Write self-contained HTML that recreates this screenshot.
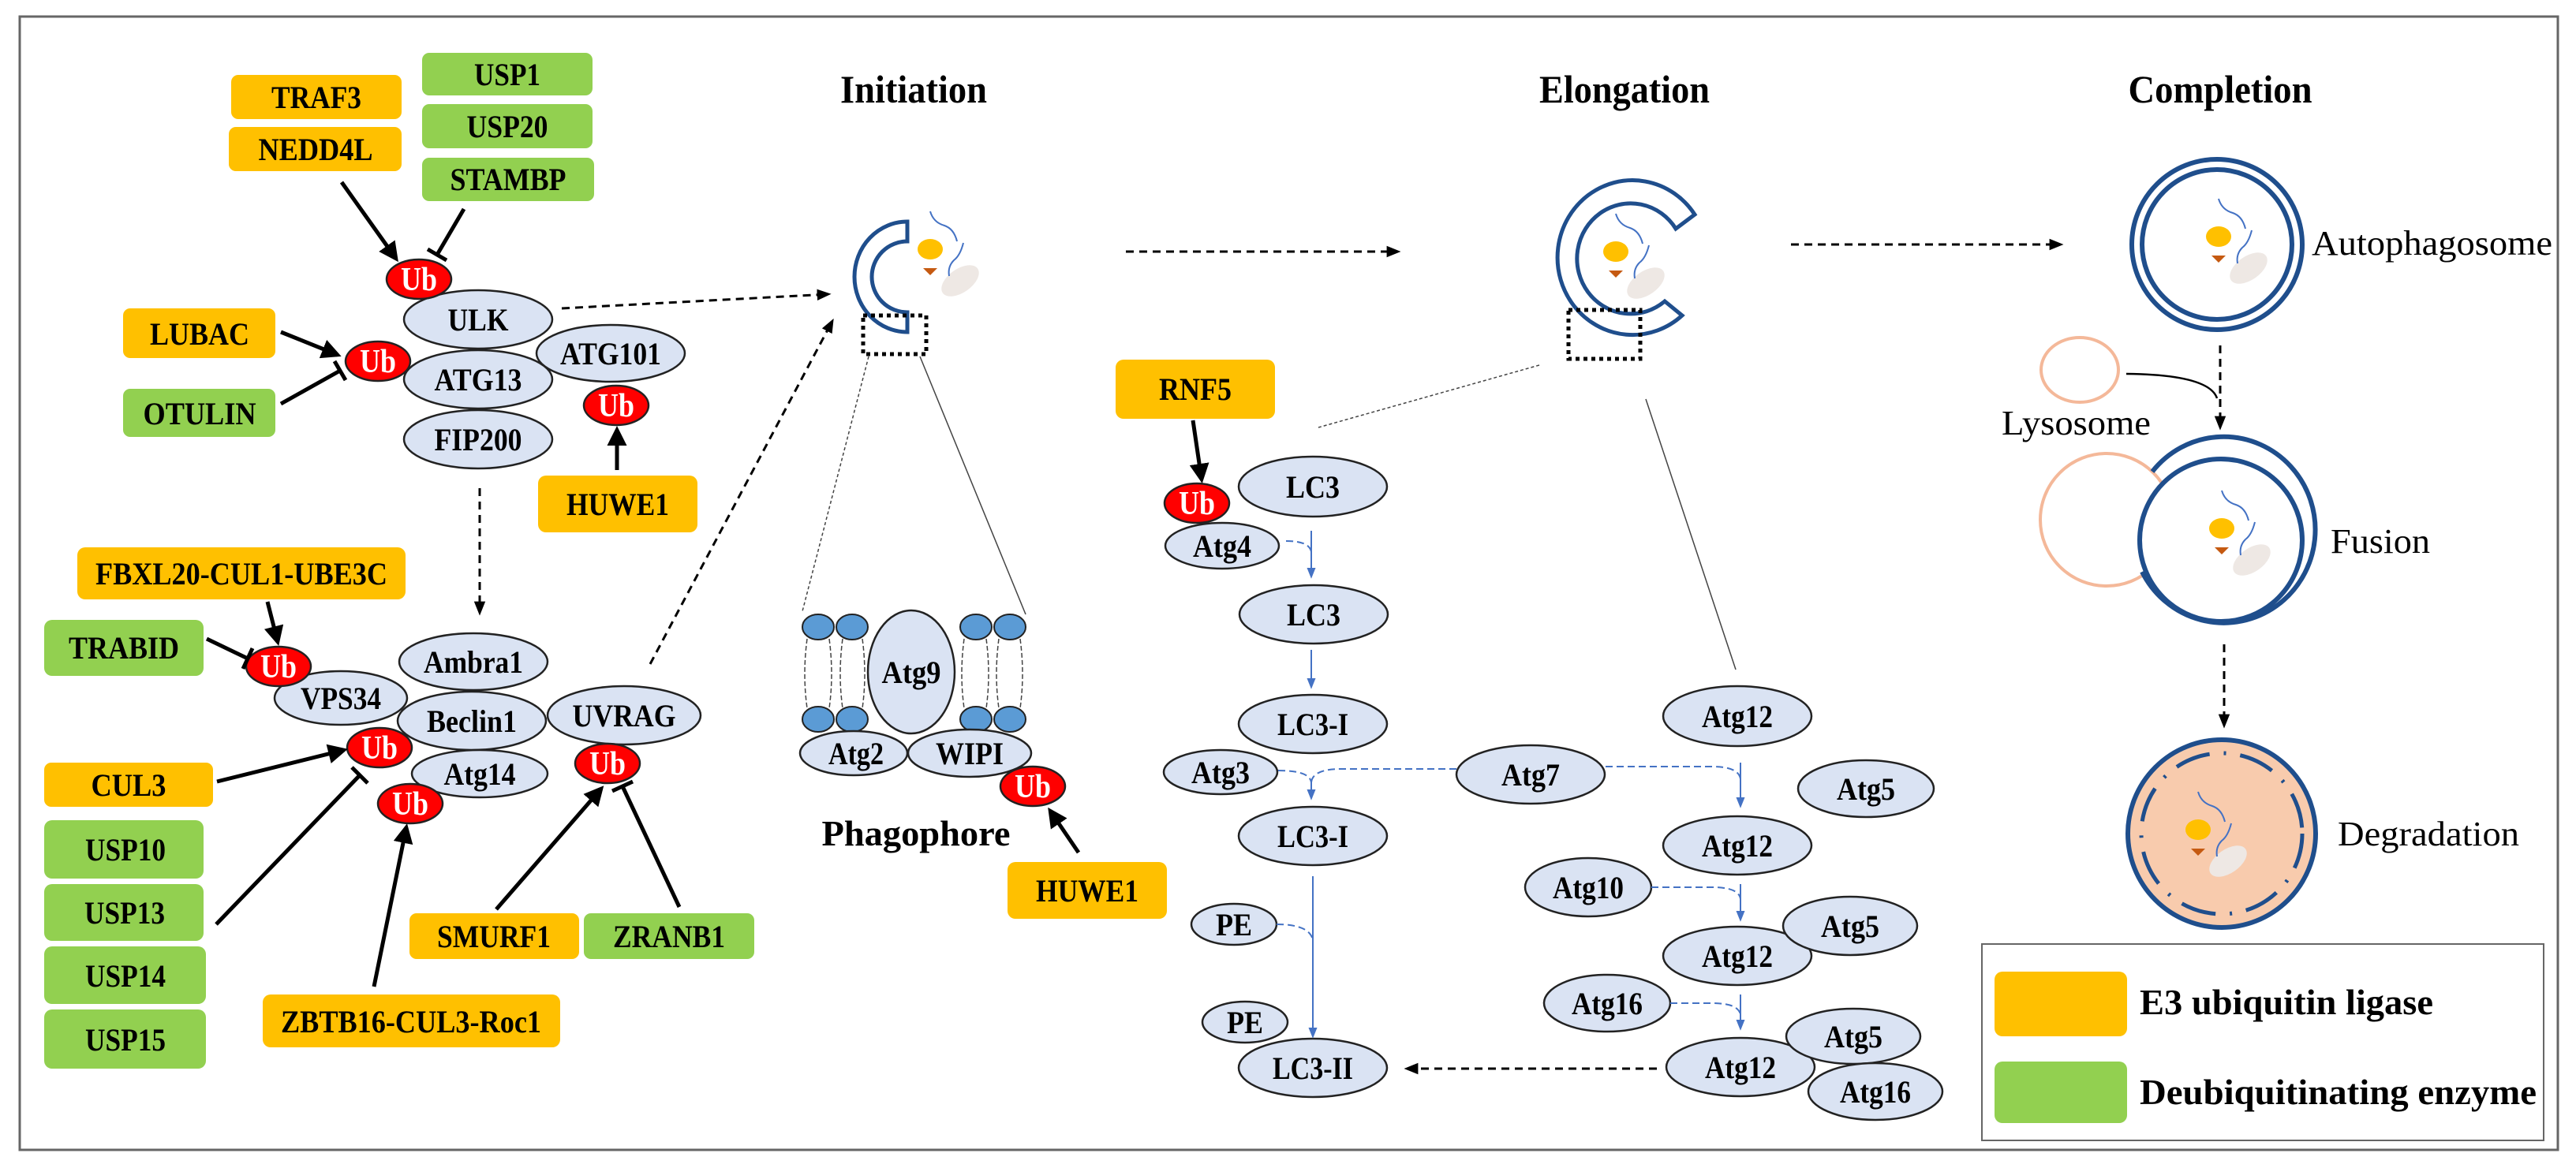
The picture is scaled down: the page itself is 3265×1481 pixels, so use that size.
<!DOCTYPE html>
<html><head><meta charset="utf-8"><style>
html,body{margin:0;padding:0;background:#fff}
svg{display:block;font-family:"Liberation Serif","Times New Roman",serif}
svg text{font-family:"Liberation Serif","Times New Roman",serif}
.b{font-weight:bold;font-size:40px;text-anchor:middle}
.t{font-size:42px;font-weight:bold;text-anchor:middle;fill:#fff}
.e{fill:#dae3f3;stroke:#222;stroke-width:2.5}
.ub{fill:#f00;stroke:#222;stroke-width:2.5}
.o{fill:#ffc000}
.g{fill:#92d050}
.a{stroke:#000;stroke-width:5;fill:none}
.d{stroke:#000;stroke-width:3;fill:none;stroke-dasharray:10 7}
.bl{stroke:#4472c4;stroke-width:2;fill:none}
.bd{stroke:#4472c4;stroke-width:2;fill:none;stroke-dasharray:9 5}
.ves{fill:none;stroke:#1f4e8c;stroke-width:6}
</style></head><body>
<svg width="3265" height="1481" viewBox="0 0 3265 1481" xmlns="http://www.w3.org/2000/svg" font-family="Liberation Serif, Times New Roman, serif">
<defs>
<marker id="ah" viewBox="0 0 10 10" refX="8" refY="5" markerWidth="5" markerHeight="5" orient="auto"><path d="M0,0 L10,5 L0,10 z" fill="#000"/></marker>
<marker id="ad" viewBox="0 0 10 10" refX="8" refY="5" markerWidth="6" markerHeight="6" orient="auto"><path d="M0,1 L10,5 L0,9 z" fill="#000"/></marker>
<marker id="ab" viewBox="0 0 10 10" refX="8" refY="5" markerWidth="7" markerHeight="7" orient="auto"><path d="M0,1 L10,5 L0,9 z" fill="#4472c4"/></marker>
<g id="cargo">
<ellipse cx="0" cy="0" rx="16" ry="13" fill="#ffc000"/>
<path d="M-9,24 L9,24 L0,33 z" fill="#c55a11"/>
<ellipse cx="38" cy="40" rx="27" ry="15" fill="#eee8e4" transform="rotate(-35 38 40)"/>
<path d="M0,-48 q4,14 18,18 q12,4 16,20" class="bl" stroke-width="3"/>
<path d="M42,-8 q-4,16 -12,22 q-8,8 -6,20" class="bl" stroke-width="3"/>
</g>
</defs>

<rect x="25" y="21" width="3217" height="1437" fill="none" stroke="#666" stroke-width="3"/>

<rect x="293" y="95" width="216" height="56" rx="9" class="o"/><text x="401" y="137" class="b" textLength="114" lengthAdjust="spacingAndGlyphs">TRAF3</text>
<rect x="290" y="161" width="219" height="56" rx="9" class="o"/><text x="400" y="203" class="b" textLength="145" lengthAdjust="spacingAndGlyphs">NEDD4L</text>
<rect x="535" y="67" width="216" height="54" rx="9" class="g"/><text x="643" y="108" class="b" textLength="84" lengthAdjust="spacingAndGlyphs">USP1</text>
<rect x="535" y="132" width="216" height="56" rx="9" class="g"/><text x="643" y="174" class="b" textLength="103" lengthAdjust="spacingAndGlyphs">USP20</text>
<rect x="535" y="200" width="218" height="55" rx="9" class="g"/><text x="644" y="241" class="b" textLength="147" lengthAdjust="spacingAndGlyphs">STAMBP</text>
<rect x="156" y="391" width="193" height="63" rx="9" class="o"/><text x="253" y="437" class="b" textLength="126" lengthAdjust="spacingAndGlyphs">LUBAC</text>
<rect x="156" y="493" width="193" height="61" rx="9" class="g"/><text x="253" y="538" class="b" textLength="143" lengthAdjust="spacingAndGlyphs">OTULIN</text>
<rect x="682" y="603" width="202" height="72" rx="10" class="o"/><text x="783" y="653" class="b" textLength="130" lengthAdjust="spacingAndGlyphs">HUWE1</text>
<rect x="98" y="694" width="416" height="66" rx="10" class="o"/><text x="306" y="741" class="b" textLength="370" lengthAdjust="spacingAndGlyphs">FBXL20-CUL1-UBE3C</text>
<rect x="56" y="786" width="202" height="71" rx="10" class="g"/><text x="157" y="835" class="b" textLength="140" lengthAdjust="spacingAndGlyphs">TRABID</text>
<rect x="56" y="967" width="214" height="56" rx="9" class="o"/><text x="163" y="1009" class="b" textLength="95" lengthAdjust="spacingAndGlyphs">CUL3</text>
<rect x="56" y="1040" width="202" height="74" rx="10" class="g"/><text x="159" y="1091" class="b" textLength="102" lengthAdjust="spacingAndGlyphs">USP10</text>
<rect x="56" y="1121" width="202" height="72" rx="10" class="g"/><text x="158" y="1171" class="b" textLength="102" lengthAdjust="spacingAndGlyphs">USP13</text>
<rect x="56" y="1200" width="205" height="73" rx="10" class="g"/><text x="159" y="1251" class="b" textLength="102" lengthAdjust="spacingAndGlyphs">USP14</text>
<rect x="56" y="1280" width="205" height="75" rx="10" class="g"/><text x="159" y="1332" class="b" textLength="102" lengthAdjust="spacingAndGlyphs">USP15</text>
<rect x="333" y="1261" width="377" height="67" rx="10" class="o"/><text x="521" y="1309" class="b" textLength="330" lengthAdjust="spacingAndGlyphs">ZBTB16-CUL3-Roc1</text>
<rect x="519" y="1158" width="215" height="58" rx="9" class="o"/><text x="626" y="1201" class="b" textLength="144" lengthAdjust="spacingAndGlyphs">SMURF1</text>
<rect x="740" y="1158" width="216" height="58" rx="9" class="g"/><text x="848" y="1201" class="b" textLength="142" lengthAdjust="spacingAndGlyphs">ZRANB1</text>

<ellipse cx="606" cy="405" rx="94" ry="37" class="e"/><text x="606" y="419" class="b" textLength="77" lengthAdjust="spacingAndGlyphs">ULK</text>
<ellipse cx="774" cy="448" rx="94" ry="36" class="e"/><text x="774" y="462" class="b" textLength="128" lengthAdjust="spacingAndGlyphs">ATG101</text>
<ellipse cx="606" cy="481" rx="94" ry="37" class="e"/><text x="606" y="495" class="b" textLength="111" lengthAdjust="spacingAndGlyphs">ATG13</text>
<ellipse cx="606" cy="557" rx="94" ry="37" class="e"/><text x="606" y="571" class="b" textLength="111" lengthAdjust="spacingAndGlyphs">FIP200</text>
<ellipse cx="531" cy="354" rx="41" ry="25" class="ub"/><text x="531" y="368" class="t" textLength="46" lengthAdjust="spacingAndGlyphs">Ub</text>
<ellipse cx="479" cy="458" rx="41" ry="25" class="ub"/><text x="479" y="472" class="t" textLength="46" lengthAdjust="spacingAndGlyphs">Ub</text>
<ellipse cx="781" cy="514" rx="41" ry="25" class="ub"/><text x="781" y="528" class="t" textLength="46" lengthAdjust="spacingAndGlyphs">Ub</text>

<ellipse cx="600" cy="839" rx="94" ry="36" class="e"/><text x="600" y="853" class="b" textLength="126" lengthAdjust="spacingAndGlyphs">Ambra1</text>
<ellipse cx="432" cy="885" rx="84" ry="34" class="e"/><text x="432" y="899" class="b" textLength="102" lengthAdjust="spacingAndGlyphs">VPS34</text>
<ellipse cx="598" cy="914" rx="94" ry="37" class="e"/><text x="598" y="928" class="b" textLength="114" lengthAdjust="spacingAndGlyphs">Beclin1</text>
<ellipse cx="791" cy="907" rx="97" ry="37" class="e"/><text x="791" y="921" class="b" textLength="131" lengthAdjust="spacingAndGlyphs">UVRAG</text>
<ellipse cx="608" cy="981" rx="86" ry="30" class="e"/><text x="608" y="995" class="b" textLength="91" lengthAdjust="spacingAndGlyphs">Atg14</text>
<ellipse cx="353" cy="845" rx="41" ry="25" class="ub"/><text x="353" y="859" class="t" textLength="46" lengthAdjust="spacingAndGlyphs">Ub</text>
<ellipse cx="481" cy="948" rx="41" ry="25" class="ub"/><text x="481" y="962" class="t" textLength="46" lengthAdjust="spacingAndGlyphs">Ub</text>
<ellipse cx="520" cy="1019" rx="41" ry="25" class="ub"/><text x="520" y="1033" class="t" textLength="46" lengthAdjust="spacingAndGlyphs">Ub</text>
<ellipse cx="770" cy="968" rx="41" ry="25" class="ub"/><text x="770" y="982" class="t" textLength="46" lengthAdjust="spacingAndGlyphs">Ub</text>

<line x1="433" y1="231" x2="502" y2="328" class="a" marker-end="url(#ah)"/>
<line x1="588" y1="265" x2="554" y2="323" class="a"/><line x1="542" y1="316" x2="566" y2="330" class="a"/>
<line x1="356" y1="421" x2="428" y2="450" class="a" marker-end="url(#ah)"/>
<line x1="356" y1="512" x2="431" y2="470" class="a"/><line x1="424" y1="458" x2="438" y2="482" class="a"/>
<line x1="782" y1="596" x2="782" y2="545" class="a" marker-end="url(#ah)"/>
<line x1="339" y1="763" x2="352" y2="814" class="a" marker-end="url(#ah)"/>
<line x1="262" y1="810" x2="314" y2="835" class="a"/><line x1="320" y1="822" x2="308" y2="848" class="a"/>
<line x1="275" y1="991" x2="436" y2="951" class="a" marker-end="url(#ah)"/>
<line x1="274" y1="1172" x2="456" y2="983" class="a"/><line x1="446" y1="973" x2="466" y2="993" class="a"/>
<line x1="474" y1="1251" x2="515" y2="1049" class="a" marker-end="url(#ah)"/>
<line x1="629" y1="1153" x2="762" y2="1000" class="a" marker-end="url(#ah)"/>
<line x1="861" y1="1150" x2="789" y2="997" class="a"/><line x1="776" y1="1003" x2="802" y2="991" class="a"/>
<line x1="608" y1="619" x2="608" y2="777" class="d" stroke-width="2.5" marker-end="url(#ad)"/>
<line x1="712" y1="391" x2="1050" y2="373" class="d" marker-end="url(#ad)"/>
<line x1="824" y1="842" x2="1055" y2="407" class="d" stroke-width="2.5" marker-end="url(#ad)"/>

<text x="1158" y="130" font-size="50" font-weight="bold" text-anchor="middle" textLength="186" lengthAdjust="spacingAndGlyphs">Initiation</text>
<text x="2059" y="130" font-size="50" font-weight="bold" text-anchor="middle" textLength="216" lengthAdjust="spacingAndGlyphs">Elongation</text>
<text x="2814" y="130" font-size="50" font-weight="bold" text-anchor="middle" textLength="233" lengthAdjust="spacingAndGlyphs">Completion</text>

<path d="M1150,281 A67,70 0 0 0 1150,421 L1150,396 A45,45 0 0 1 1150,306 Z" fill="#fff" stroke="#1f4e8c" stroke-width="5"/>
<use href="#cargo" x="1179" y="316"/>
<rect x="1094" y="400" width="80" height="49" fill="none" stroke="#000" stroke-width="5" stroke-dasharray="5 5"/>
<line x1="1101" y1="452" x2="1017" y2="775" stroke="#444" stroke-width="1.5" stroke-dasharray="4 3"/>
<line x1="1166" y1="452" x2="1300" y2="779" stroke="#444" stroke-width="1.5"/>
<line x1="1427" y1="319" x2="1772" y2="319" class="d" stroke-width="2.5" marker-end="url(#ad)"/>

<g stroke="#444" stroke-width="1.5" stroke-dasharray="6 3" fill="none">
<path d="M1023,810 q-6,45 0,88"/><path d="M1051,810 q6,45 0,88"/><path d="M1068,810 q-6,45 0,88"/><path d="M1093,810 q6,45 0,88"/>
<path d="M1222,810 q-6,45 0,88"/><path d="M1250,810 q6,45 0,88"/><path d="M1266,810 q-6,45 0,88"/><path d="M1293,810 q6,45 0,88"/>
</g>
<g fill="#5b9bd5" stroke="#222" stroke-width="2">
<ellipse cx="1037" cy="795" rx="20" ry="16"/><ellipse cx="1080" cy="795" rx="20" ry="16"/><ellipse cx="1237" cy="795" rx="20" ry="16"/><ellipse cx="1280" cy="795" rx="20" ry="16"/>
<ellipse cx="1037" cy="912" rx="20" ry="16"/><ellipse cx="1080" cy="912" rx="20" ry="16"/><ellipse cx="1237" cy="912" rx="20" ry="16"/><ellipse cx="1280" cy="912" rx="20" ry="16"/>
</g>
<ellipse cx="1155" cy="852" rx="55" ry="78" class="e"/><text x="1155" y="866" class="b" textLength="75" lengthAdjust="spacingAndGlyphs">Atg9</text>
<ellipse cx="1082" cy="955" rx="68" ry="28" class="e"/><text x="1085" y="969" class="b" textLength="70" lengthAdjust="spacingAndGlyphs">Atg2</text>
<ellipse cx="1229" cy="955" rx="78" ry="30" class="e"/><text x="1229" y="969" class="b" textLength="86" lengthAdjust="spacingAndGlyphs">WIPI</text>
<ellipse cx="1309" cy="997" rx="41" ry="25" class="ub"/><text x="1309" y="1011" class="t" textLength="46" lengthAdjust="spacingAndGlyphs">Ub</text>
<text x="1161" y="1072" font-size="46" font-weight="bold" text-anchor="middle" textLength="239" lengthAdjust="spacingAndGlyphs">Phagophore</text>
<rect x="1277" y="1093" width="202" height="72" rx="10" class="o"/><text x="1378" y="1143" class="b" textLength="130" lengthAdjust="spacingAndGlyphs">HUWE1</text>
<line x1="1367" y1="1081" x2="1331" y2="1028" class="a" marker-end="url(#ah)"/>

<path d="M2148,272 A95,98 0 1 0 2132,400 L2110,382 A68,70 0 1 1 2124,290 Z" fill="#fff" stroke="#1f4e8c" stroke-width="5"/>
<use href="#cargo" x="2048" y="319"/>
<rect x="1988" y="393" width="91" height="62" fill="none" stroke="#000" stroke-width="5" stroke-dasharray="5 5"/>
<line x1="1951" y1="463" x2="1671" y2="542" stroke="#444" stroke-width="1.5" stroke-dasharray="4 3"/>
<line x1="2086" y1="506" x2="2200" y2="849" stroke="#444" stroke-width="1.5"/>

<rect x="1414" y="456" width="202" height="75" rx="10" class="o"/><text x="1515" y="507" class="b" textLength="92" lengthAdjust="spacingAndGlyphs">RNF5</text>
<line x1="1512" y1="533" x2="1523" y2="608" class="a" marker-end="url(#ah)"/>
<ellipse cx="1664" cy="617" rx="94" ry="38" class="e"/><text x="1664" y="631" class="b" textLength="68" lengthAdjust="spacingAndGlyphs">LC3</text>
<ellipse cx="1549" cy="692" rx="72" ry="29" class="e"/><text x="1549" y="706" class="b" textLength="74" lengthAdjust="spacingAndGlyphs">Atg4</text>
<ellipse cx="1517" cy="638" rx="41" ry="25" class="ub"/><text x="1517" y="652" class="t" textLength="46" lengthAdjust="spacingAndGlyphs">Ub</text>
<ellipse cx="1665" cy="779" rx="94" ry="37" class="e"/><text x="1665" y="793" class="b" textLength="68" lengthAdjust="spacingAndGlyphs">LC3</text>
<ellipse cx="1664" cy="918" rx="94" ry="37" class="e"/><text x="1664" y="932" class="b" textLength="90" lengthAdjust="spacingAndGlyphs">LC3-I</text>
<ellipse cx="1547" cy="979" rx="72" ry="28" class="e"/><text x="1547" y="993" class="b" textLength="74" lengthAdjust="spacingAndGlyphs">Atg3</text>
<ellipse cx="1940" cy="982" rx="94" ry="37" class="e"/><text x="1940" y="996" class="b" textLength="74" lengthAdjust="spacingAndGlyphs">Atg7</text>
<ellipse cx="1664" cy="1060" rx="94" ry="37" class="e"/><text x="1664" y="1074" class="b" textLength="90" lengthAdjust="spacingAndGlyphs">LC3-I</text>
<ellipse cx="1564" cy="1172" rx="54" ry="26" class="e"/><text x="1564" y="1186" class="b" textLength="46" lengthAdjust="spacingAndGlyphs">PE</text>
<ellipse cx="1578" cy="1296" rx="54" ry="26" class="e"/><text x="1578" y="1310" class="b" textLength="46" lengthAdjust="spacingAndGlyphs">PE</text>
<ellipse cx="1664" cy="1354" rx="94" ry="37" class="e"/><text x="1664" y="1368" class="b" textLength="102" lengthAdjust="spacingAndGlyphs">LC3-II</text>

<ellipse cx="2202" cy="908" rx="94" ry="38" class="e"/><text x="2202" y="922" class="b" textLength="90" lengthAdjust="spacingAndGlyphs">Atg12</text>
<ellipse cx="2365" cy="1000" rx="86" ry="36" class="e"/><text x="2365" y="1014" class="b" textLength="74" lengthAdjust="spacingAndGlyphs">Atg5</text>
<ellipse cx="2202" cy="1072" rx="94" ry="37" class="e"/><text x="2202" y="1086" class="b" textLength="90" lengthAdjust="spacingAndGlyphs">Atg12</text>
<ellipse cx="2013" cy="1125" rx="80" ry="37" class="e"/><text x="2013" y="1139" class="b" textLength="90" lengthAdjust="spacingAndGlyphs">Atg10</text>
<ellipse cx="2202" cy="1212" rx="94" ry="37" class="e"/><text x="2202" y="1226" class="b" textLength="90" lengthAdjust="spacingAndGlyphs">Atg12</text>
<ellipse cx="2345" cy="1174" rx="85" ry="37" class="e"/><text x="2345" y="1188" class="b" textLength="74" lengthAdjust="spacingAndGlyphs">Atg5</text>
<ellipse cx="2037" cy="1272" rx="80" ry="36" class="e"/><text x="2037" y="1286" class="b" textLength="90" lengthAdjust="spacingAndGlyphs">Atg16</text>
<ellipse cx="2206" cy="1353" rx="94" ry="37" class="e"/><text x="2206" y="1367" class="b" textLength="90" lengthAdjust="spacingAndGlyphs">Atg12</text>
<ellipse cx="2349" cy="1314" rx="85" ry="35" class="e"/><text x="2349" y="1328" class="b" textLength="74" lengthAdjust="spacingAndGlyphs">Atg5</text>
<ellipse cx="2377" cy="1384" rx="85" ry="36" class="e"/><text x="2377" y="1398" class="b" textLength="90" lengthAdjust="spacingAndGlyphs">Atg16</text>

<path d="M1630,686 Q1660,686 1662,700" class="bd"/><line x1="1662" y1="673" x2="1662" y2="731" class="bl" marker-end="url(#ab)"/>
<line x1="1662" y1="824" x2="1662" y2="871" class="bl" marker-end="url(#ab)"/>
<path d="M1620,977 Q1660,977 1662,992" class="bd"/><path d="M1846,975 L1700,975 Q1664,975 1662,992" class="bd"/>
<line x1="1662" y1="990" x2="1662" y2="1012" class="bl" marker-end="url(#ab)"/>
<path d="M2035,972 L2170,972 Q2204,972 2206,988" class="bd"/><line x1="2206" y1="967" x2="2206" y2="1022" class="bl" marker-end="url(#ab)"/>
<path d="M2093,1125 L2170,1125 Q2204,1125 2206,1140" class="bd"/><line x1="2206" y1="1121" x2="2206" y2="1166" class="bl" marker-end="url(#ab)"/>
<path d="M2117,1272 L2170,1272 Q2204,1272 2206,1287" class="bd"/><line x1="2206" y1="1261" x2="2206" y2="1304" class="bl" marker-end="url(#ab)"/>
<path d="M1618,1172 Q1660,1172 1664,1192" class="bd"/><line x1="1664" y1="1111" x2="1664" y2="1314" class="bl" stroke-width="1.5" marker-end="url(#ab)"/>
<line x1="2100" y1="1355" x2="1783" y2="1355" class="d" marker-end="url(#ad)"/>

<line x1="2270" y1="310" x2="2612" y2="310" class="d" stroke-width="2.5" marker-end="url(#ad)"/>
<circle cx="2810" cy="310" r="108" class="ves"/><circle cx="2810" cy="310" r="95" class="ves"/>
<use href="#cargo" x="2812" y="300"/>
<text x="2930" y="323" font-size="44" textLength="305" lengthAdjust="spacingAndGlyphs">Autophagosome</text>
<ellipse cx="2636" cy="469" rx="49" ry="41" fill="none" stroke="#f4b899" stroke-width="4"/>
<text x="2537" y="551" font-size="44" textLength="189" lengthAdjust="spacingAndGlyphs">Lysosome</text>
<path d="M2695,474 Q2800,475 2810,505" stroke="#000" stroke-width="2.5" fill="none"/>
<line x1="2814" y1="438" x2="2814" y2="542" class="d" stroke-width="2.5" marker-end="url(#ad)"/>
<circle cx="2670" cy="659" r="84" fill="none" stroke="#f4b899" stroke-width="4"/>
<path d="M2728,598 A116,118 0 1 1 2715,725" class="ves"/>
<circle cx="2815" cy="685" r="103" fill="#fff" stroke="#1f4e8c" stroke-width="6"/>
<use href="#cargo" x="2816" y="670"/>
<text x="2954" y="701" font-size="44" textLength="126" lengthAdjust="spacingAndGlyphs">Fusion</text>
<line x1="2819" y1="817" x2="2819" y2="920" class="d" stroke-width="2.5" marker-end="url(#ad)"/>
<circle cx="2816" cy="1057" r="119" fill="#f8cbad" stroke="#1f4e8c" stroke-width="6"/>
<circle cx="2816" cy="1057" r="102" fill="none" stroke="#1f4e8c" stroke-width="5" stroke-dasharray="45 18 3 18"/>
<use href="#cargo" x="2786" y="1052"/>
<text x="2963" y="1072" font-size="44" textLength="230" lengthAdjust="spacingAndGlyphs">Degradation</text>

<rect x="2512" y="1197" width="712" height="249" fill="none" stroke="#666" stroke-width="2"/>
<rect x="2528" y="1232" width="168" height="82" rx="10" class="o"/>
<rect x="2528" y="1346" width="168" height="78" rx="10" class="g"/>
<text x="2712" y="1286" font-size="46" font-weight="bold" textLength="372" lengthAdjust="spacingAndGlyphs">E3 ubiquitin ligase</text>
<text x="2712" y="1400" font-size="46" font-weight="bold" textLength="503" lengthAdjust="spacingAndGlyphs">Deubiquitinating enzyme</text>
</svg>
</body></html>
